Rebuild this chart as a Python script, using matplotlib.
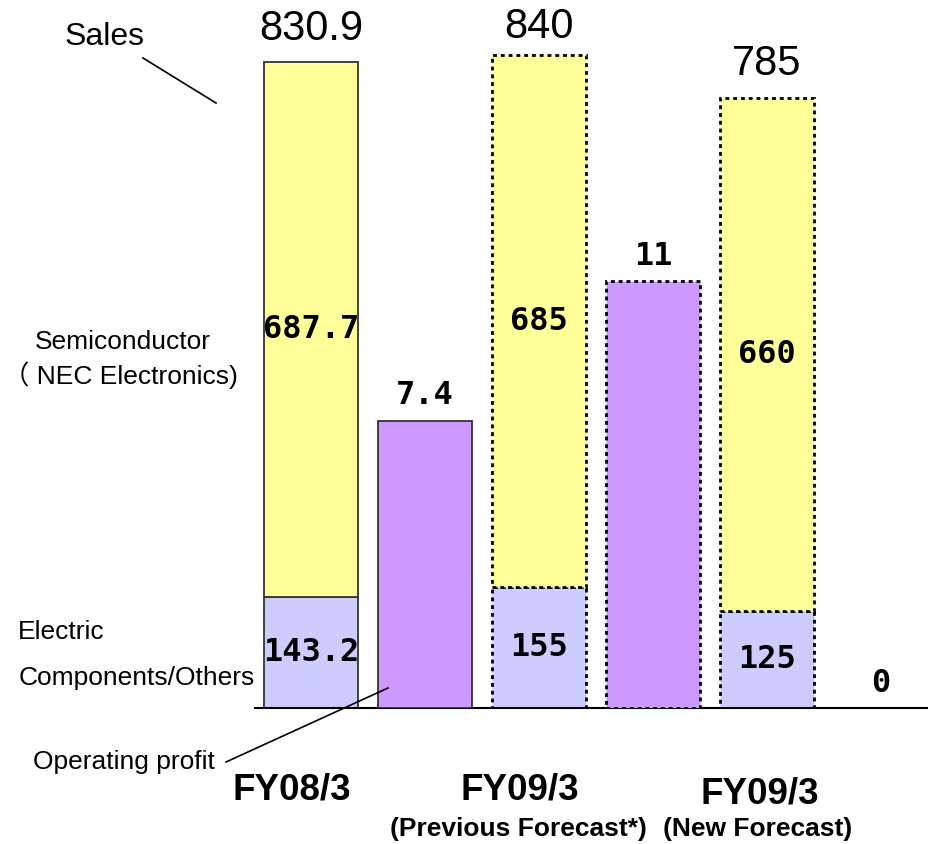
import matplotlib

matplotlib.use("Agg")

import matplotlib.pyplot as plt
from matplotlib.lines import Line2D

plt.rcParams["font.family"] = ["Liberation Sans", "Noto Sans CJK JP", "DejaVu Sans"]

# data (100 million yen)
PERIODS = ["FY08/3", "FY09/3", "FY09/3"]
PERIOD_NOTES = ["", "(Previous Forecast*)", "(New Forecast)"]
ELECTRIC = [143.2, 155, 125]
SEMICONDUCTOR = [687.7, 685, 660]
SALES_LABELS = ["830.9", "840", "785"]
ELECTRIC_LABELS = ["143.2", "155", "125"]
SEMI_LABELS = ["687.7", "685", "660"]
PROFIT = [7.4, 11, 0]
PROFIT_LABELS = ["7.4", "11", "0"]
FORECAST = [False, True, True]

YELLOW = "#FFFF99"
LAVENDER = "#CCCCFF"
PURPLE = "#CC99FF"
NUM_FONT = dict(family="DejaVu Sans Mono", fontweight="bold", fontsize=23)
TOTAL_GAP = [24, 20, 24]  # points above the sales bar

W, H = 929, 844


def fx(x: float) -> float:
    return x / W


def fy(y: float) -> float:
    return 1 - y / H


fig = plt.figure(figsize=(W / 100, H / 100), dpi=100)
ax = fig.add_axes([fx(255), fy(708), 1 - fx(255), fy(0) - fy(708)])
ax.set_xlim(-0.491, 5.421)
ax.set_ylim(0, 708 / 0.7775)
ax2 = ax.twinx()
ax2.set_ylim(0, 708 / 38.8)

for a in (ax, ax2):
    for side in ("top", "right", "left", "bottom"):
        a.spines[side].set_visible(False)
    a.set_xticks([])
    a.set_yticks([])
ax.spines["bottom"].set_visible(True)
ax.spines["bottom"].set_linewidth(1.5)

width = 0.82
for i in range(len(PERIODS)):
    xs = 2 * i
    xp = 2 * i + 1
    if FORECAST[i]:
        style = dict(edgecolor="black", linewidth=2.0, linestyle=(0, (1.4, 1.4)))
    else:
        style = dict(edgecolor="#333333", linewidth=1.3)
    ax.bar(xs, ELECTRIC[i], width, color=LAVENDER, **style)
    ax.bar(xs, SEMICONDUCTOR[i], width, bottom=ELECTRIC[i], color=YELLOW, **style)
    ax.text(xs, ELECTRIC[i] / 2, ELECTRIC_LABELS[i], ha="center", va="center", **NUM_FONT)
    ax.text(xs, ELECTRIC[i] + SEMICONDUCTOR[i] / 2, SEMI_LABELS[i], ha="center", va="center", **NUM_FONT)
    ax.annotate(SALES_LABELS[i], (xs, ELECTRIC[i] + SEMICONDUCTOR[i]), xytext=(0, TOTAL_GAP[i]),
                textcoords="offset points", ha="center", va="center", fontsize=30)
    if PROFIT[i] > 0:
        ax2.bar(xp, PROFIT[i], width, color=PURPLE, **style)
    ax2.annotate(PROFIT_LABELS[i], (xp, PROFIT[i]), xytext=(0, 18),
                 textcoords="offset points", ha="center", va="center", **NUM_FONT)

# category labels
label_x = [292, 520, 760]
label_y = [790, 790, 794]
for i, name in enumerate(PERIODS):
    fig.text(fx(label_x[i]), fy(label_y[i]), name, ha="center", va="center",
             fontsize=26.5, fontweight="bold")
    if PERIOD_NOTES[i]:
        fig.text(fx(label_x[i] - 2), fy(829), PERIOD_NOTES[i], ha="center", va="center",
                 fontsize=19, fontweight="bold")

# legend-ish annotations on the left
fig.text(fx(65), fy(37), "Sales", ha="left", va="center", fontsize=23)
fig.add_artist(Line2D([fx(143), fx(216)], [fy(58), fy(103)], color="black", linewidth=1.2))
fig.text(fx(123), fy(342), "Semiconductor", ha="center", va="center", fontsize=19)
fig.text(fx(3), fy(375), "（ NEC Electronics)", ha="left", va="center", fontsize=19)
fig.text(fx(18), fy(632), "Electric", ha="left", va="center", fontsize=19)
fig.text(fx(19), fy(678), "Components/Others", ha="left", va="center", fontsize=19)
fig.text(fx(33), fy(762), "Operating profit", ha="left", va="center", fontsize=19)
fig.add_artist(Line2D([fx(226), fx(388)], [fy(762), fy(688)], color="black", linewidth=1.2))

fig.savefig("out.png", dpi=100)
